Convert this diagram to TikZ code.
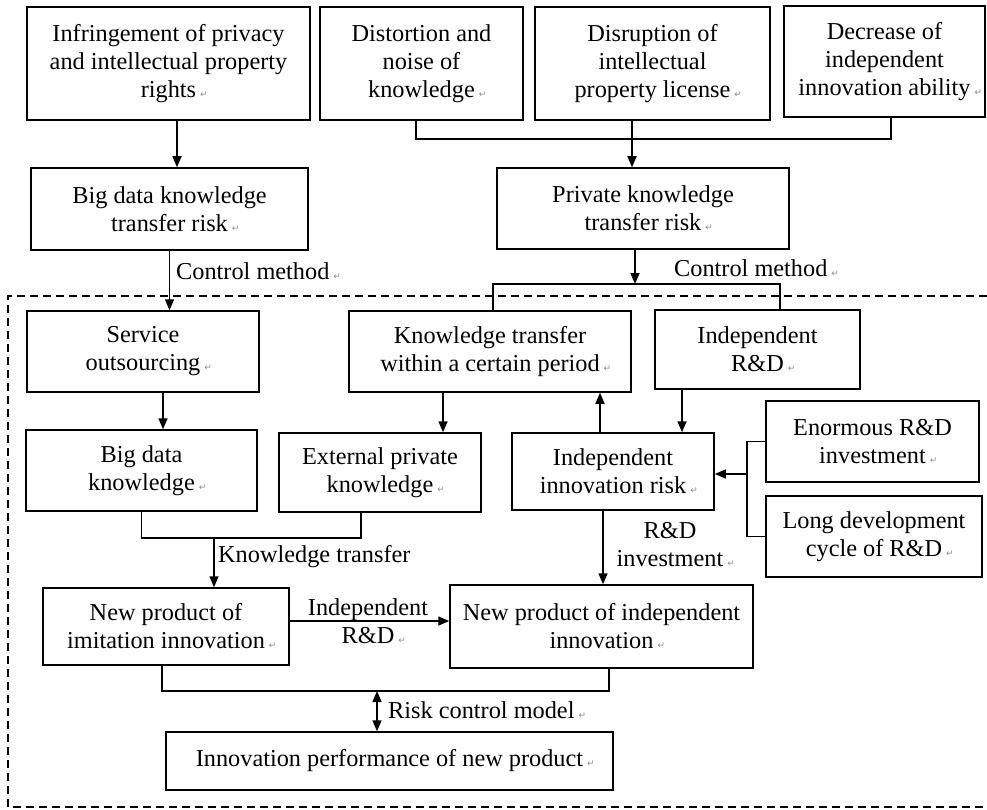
\documentclass[tikz,border=0pt]{standalone}
\usepackage{fontspec}
\setmainfont{Liberation Serif}
\newfontfamily\symfnt{DejaVu Sans}
\usetikzlibrary{arrows.meta}
\newcommand{\rmk}{\rlap{\,{\symfnt\fontsize{9}{9}\selectfont\color{black!45}↵}}}
\begin{document}
\begin{tikzpicture}[x=1pt,y=-1pt,
  txt/.style={font=\fontsize{24.3}{28}\selectfont},
  box/.style={draw, line width=1.5pt, inner sep=0pt, align=center, txt},
  lbl/.style={inner sep=0pt, align=center, txt},
  ln/.style={line width=1.5pt},
  arr/.style={line width=1.5pt, -{Triangle[length=11pt,width=9pt]}},
  darr/.style={line width=1.5pt, {Triangle[length=11pt,width=9pt]}-{Triangle[length=11pt,width=9pt]}},
  dbox/.style={line width=1.3pt, dash pattern=on 8pt off 5pt}
]
\useasboundingbox (0,0) rectangle (987,810);

% row 1
\node[box, minimum width=283pt, minimum height=113pt] (B1) at (168.5,63.5) {Infringement of privacy\\and intellectual property\\rights\rmk};
\node[box, minimum width=203pt, minimum height=113pt] (B2) at (421.5,63.5) {Distortion and\\noise of\\knowledge\rmk};
\node[box, minimum width=235pt, minimum height=113pt] (B3) at (652.5,63.5) {Disruption of\\intellectual\\property license\rmk};
\node[box, minimum width=201pt, minimum height=111pt] (B4) at (884.5,61.5) {Decrease of\\independent\\innovation ability\rmk};

% row 2
\node[box, minimum width=277pt, minimum height=82pt] (BDrisk) at (169.5,209) {Big data knowledge\\transfer risk\rmk};
\node[box, minimum width=292pt, minimum height=81pt] (Private) at (643,208.5) {Private knowledge\\transfer risk\rmk};

% row 3
\node[box, minimum width=232pt, minimum height=81pt] (Service) at (143,351.5) {Service\\outsourcing\rmk};
\node[box, minimum width=282pt, minimum height=81pt] (KT) at (490,351.5) {Knowledge transfer\\within a certain period\rmk};
\node[box, minimum width=205pt, minimum height=79pt] (IRD) at (757.5,349.5) {Independent\\R\&D\rmk};

% row 4
\node[box, minimum width=231pt, minimum height=81pt] (BDK) at (141.5,470.5) {Big data\\knowledge\rmk};
\node[box, minimum width=202pt, minimum height=79pt] (Ext) at (380,472.5) {External private\\knowledge\rmk};
\node[box, minimum width=202pt, minimum height=77pt] (IIR) at (613,471.5) {Independent\\innovation risk\rmk};
\node[box, minimum width=213pt, minimum height=81pt] (Enor) at (872.5,441.5) {Enormous R\&D\\investment\rmk};
\node[box, minimum width=216pt, minimum height=81pt] (Long) at (874,536.5) {Long development\\cycle of R\&D\rmk};

% row 5
\node[box, minimum width=246pt, minimum height=77pt] (Imit) at (166,626.5) {New product of\\imitation innovation\rmk};
\node[box, minimum width=303pt, minimum height=83pt] (NPI) at (601.5,626.5) {New product of independent\\innovation\rmk};

% row 6
\node[box, minimum width=447pt, minimum height=58pt] (IP) at (389.5,761) {Innovation performance of new product\rmk};

% dashed frame
\draw[dbox] (987,296) -- (8,296) -- (8,807) -- (987,807);

% connectors top
\coordinate (xa) at (177,0);
\draw[arr] (B1.south -| xa) -- (BDrisk.north -| xa);
\coordinate (xb2) at (416,139);
\coordinate (xb4) at (891,139);
\draw[ln] (B2.south -| xb2) -- (xb2) -- (xb4) -- (B4.south -| xb4);
\coordinate (xb3) at (632,0);
\draw[arr] (B3.south -| xb3) -- (Private.north -| xb3);

\draw[arr] (BDrisk.south) -- (Service.north -| BDrisk.south);
\node[lbl, anchor=west] (cm1) at (176,271) {Control method\rmk};

\coordinate (pj) at (635,284);
\draw[arr] (Private.south -| pj) -- (pj);
\coordinate (k1) at (493,284);
\coordinate (k2) at (780,284);
\draw[ln] (KT.north -| k1) -- (k1) -- (k2) -- (IRD.north -| k2);
\node[lbl, anchor=west] (cm2) at (674,268) {Control method\rmk};

% middle connectors
\coordinate (s1) at (163,0);
\draw[arr] (Service.south -| s1) -- (BDK.north -| s1);
\coordinate (s2) at (443,0);
\draw[arr] (KT.south -| s2) -- (Ext.north -| s2);
\coordinate (s3) at (600,0);
\draw[arr] (IIR.north -| s3) -- (KT.south -| s3);
\coordinate (s4) at (682,0);
\draw[arr] (IRD.south -| s4) -- (IIR.north -| s4);

\coordinate (br) at (747,474);
\draw[ln] (Enor.west) -- (Enor.west -| br) -- (Long.west -| br) -- (Long.west);
\draw[arr] (br) -- (IIR.east |- br);

\coordinate (kj) at (214,538);
\coordinate (e1) at (361,538);
\draw[ln] (BDK.south) -- (BDK.south |- kj) -- (e1) -- (Ext.south -| e1);
\draw[arr] (kj) -- (Imit.north -| kj);
\node[lbl, anchor=west] (ktl) at (218,557) {Knowledge transfer};

\coordinate (s5) at (603,0);
\draw[arr] (IIR.south -| s5) -- (NPI.north -| s5);
\node[lbl] (rdi) at (670,545) {R\&D\\investment\rmk};

\coordinate (h1) at (0,621);
\draw[arr] (Imit.east |- h1) -- (NPI.west |- h1);
\node[lbl] (irdl) at (368,621) {Independent\\R\&D\rmk};

% bottom
\coordinate (m1) at (162,691);
\coordinate (n1) at (609,691);
\coordinate (bj) at (377,691);
\draw[ln] (Imit.south -| m1) -- (m1) -- (n1) -- (NPI.south -| n1);
\draw[darr] (bj) -- (IP.north -| bj);
\node[lbl, anchor=west] (rcm) at (388,710) {Risk control model\rmk};
\end{tikzpicture}
\end{document}
